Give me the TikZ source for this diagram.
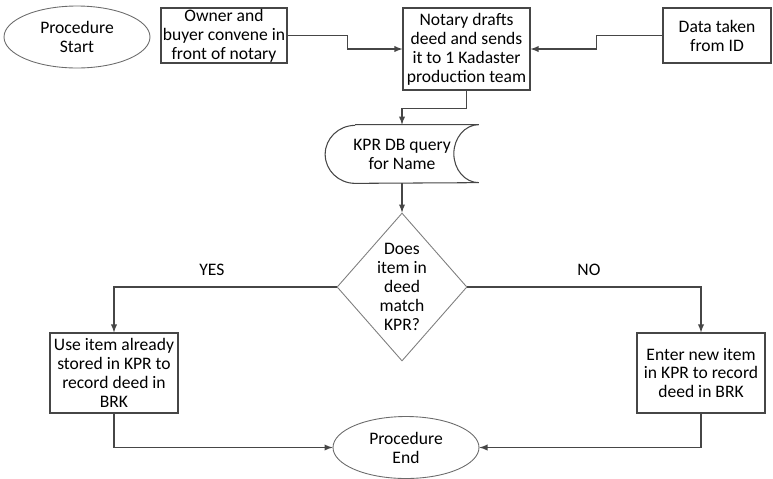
\documentclass[tikz,border=0pt]{standalone}
\usepackage{fontspec}
\setmainfont{Carlito}
\usetikzlibrary{arrows,shapes.geometric}
\definecolor{linegrey}{RGB}{70,70,70}

\begin{document}
\begin{tikzpicture}[x=0.02cm,y=-0.02cm,
	font=\fontsize{10}{10.8}\selectfont,
	every node/.style={align=center},
	outline/.style={draw=linegrey,line width=0.6pt},
	box/.style={outline,inner sep=0pt},
	oval/.style={ellipse,draw=linegrey!80,line width=0.5pt,minimum width=2.92cm,minimum height=1.24cm,inner sep=0pt},
	flow/.style={-latex,outline}]
	\useasboundingbox (0,0) rectangle (773,478);
	\node[oval] (start) at (77,37) {Procedure\\Start};
	\node[box,minimum width=2.52cm,minimum height=1.1cm] (owner) at (224,35.5) {Owner and\\buyer convene in\\front of notary};
	\node[box,minimum width=2.54cm,minimum height=1.64cm] (notary) at (466.5,49) {Notary drafts\\deed and sends\\it to 1 Kadaster\\production team};
	\node[box,minimum width=2.16cm,minimum height=1.1cm] (iddata) at (717,35.5) {Data taken\\from ID};
	\node[minimum width=3.06cm,minimum height=1.16cm] (kpr) at (402,154) {KPR DB query\\for Name};
	\draw[outline] ([xshift=0.6cm]kpr.north west) -- (kpr.north east)
		arc[start angle=90,end angle=270,x radius=0.5cm,y radius=0.58cm]
		-- ([xshift=0.6cm]kpr.south west)
		arc[start angle=270,end angle=90,x radius=0.6cm,y radius=0.58cm];
	\node[diamond,draw=linegrey!70,line width=0.5pt,aspect=0.88,inner sep=-2pt,minimum width=2.6cm,minimum height=2.96cm] (match) at (402,287) {Does\\item in\\deed\\match\\KPR?};
	\node[box,minimum width=2.56cm,minimum height=1.6cm] (useitem) at (114,373) {Use item already\\stored in KPR to\\record deed in\\BRK};
	\node[box,minimum width=2.56cm,minimum height=1.6cm] (newitem) at (701,373) {Enter new item\\in KPR to record\\deed in BRK};
	\node[oval] (finish) at (406,447.5) {Procedure\\End};
	% connectors
	\draw[flow] (owner.east) -- ++(60,0) |- (notary.west);
	\draw[flow] (iddata.west) -- ++(-66,0) |- (notary.east);
	\draw[flow] (notary.south) -- ++(0,18) -| (kpr.north);
	\draw[flow] (kpr.south) -- (match.north);
	\draw[flow] (match.west) -| node[pos=0.28,above=3pt] {YES} (useitem.north);
	\draw[flow] (match.east) -| node[pos=0.26,above=3pt] {NO} (newitem.north);
	\draw[flow] (useitem.south) |- (finish.west);
	\draw[flow] (newitem.south) |- (finish.east);
\end{tikzpicture}
\end{document}
